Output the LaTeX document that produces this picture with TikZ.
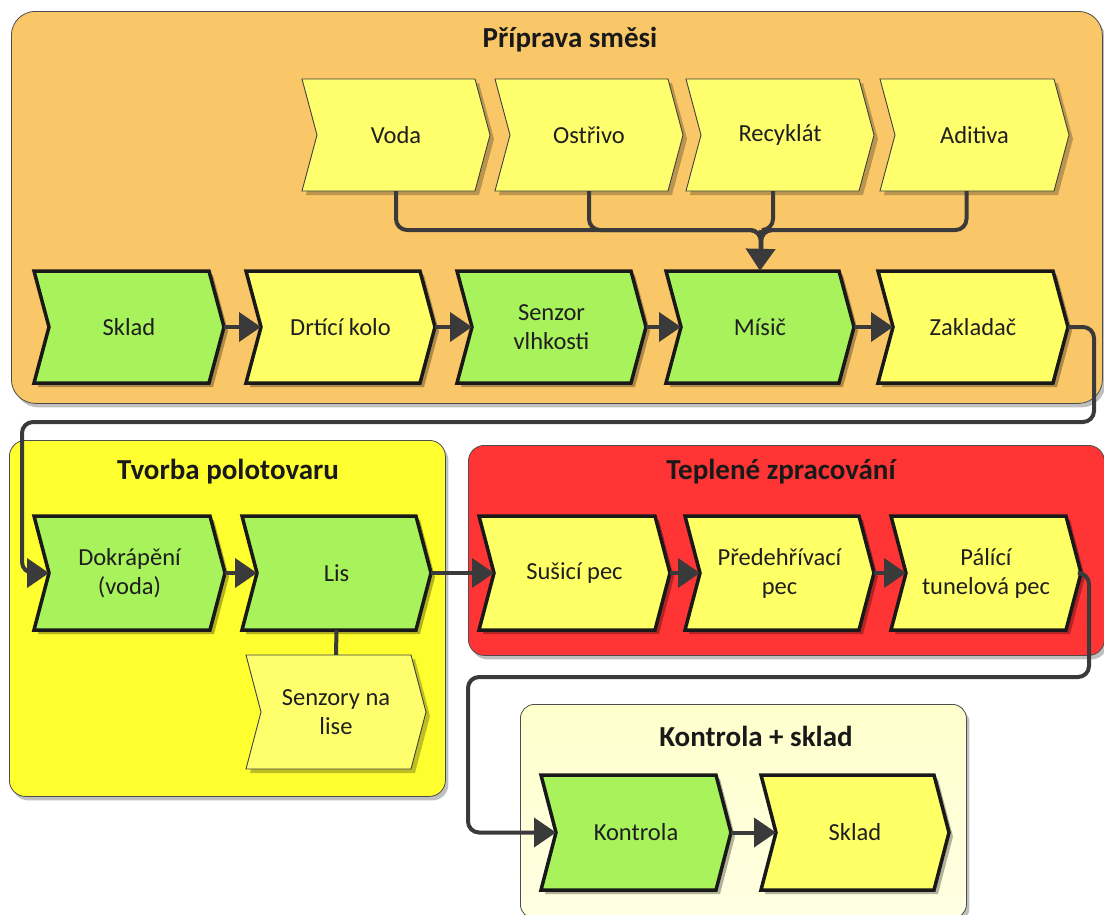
\documentclass[tikz,border=0pt]{standalone}
\usepackage{fontspec}
\setmainfont{Carlito}
\usetikzlibrary{arrows.meta,shadows}

\definecolor{grpOrange}{RGB}{250,199,104}
\definecolor{grpYellow}{RGB}{255,255,48}
\definecolor{grpRed}{RGB}{255,52,52}
\definecolor{grpPale}{RGB}{255,255,204}
\definecolor{stepGreen}{RGB}{168,242,92}
\definecolor{stepYellow}{RGB}{255,255,102}
\definecolor{inputYellow}{RGB}{255,255,110}
\definecolor{connGray}{RGB}{58,58,58}

\tikzset{
  grp/.style={draw=black!70, line width=0.8pt, inner sep=0pt, anchor=north west,
    drop shadow={shadow xshift=3pt, shadow yshift=-4pt, opacity=0.25, fill=black}},
  grptitle/.style={font=\fontsize{29}{33}\selectfont\bfseries, text=black!90},
  mainstep/.style={draw=black!90, line width=3.5pt, line join=miter,
    drop shadow={shadow xshift=4pt, shadow yshift=-4pt, opacity=0.3, fill=black}},
  inputstep/.style={draw=black!75, line width=0.9pt, fill=inputYellow,
    drop shadow={shadow xshift=4pt, shadow yshift=-4pt, opacity=0.25, fill=black}},
  steptext/.style={font=\fontsize{24.5}{29}\selectfont, text=black!88, align=center, inner sep=0pt},
  link/.style={draw=connGray, line width=4pt, rounded corners=11pt},
  flow/.style={link, -{Triangle[length=22pt,width=29pt]}},
}

% \chevstep{name}{style}{left x}{tip x}{top y}{bottom y}{label}
\newcommand{\chevstep}[7]{%
  \pgfmathsetmacro{\chvMid}{(#5+#6)/2}%
  \pgfmathsetmacro{\chvL}{#3+15}%
  \pgfmathsetmacro{\chvR}{#4-15}%
  \pgfmathsetmacro{\chvX}{(#3+#4)/2}%
  \pgfmathsetmacro{\chvH}{#6-#5}%
  \path[#2] (#3,#5) -- (\chvR,#5) -- (#4,\chvMid) -- (\chvR,#6) -- (#3,#6) -- (\chvL,\chvMid) -- cycle;
  \node[steptext, minimum height=\chvH pt] (#1) at (\chvX,\chvMid) {#7};
  \coordinate (#1-in) at (\chvL,\chvMid);
  \coordinate (#1-out) at (#4,\chvMid);
}

\begin{document}
\begin{tikzpicture}[x=1pt,y=-1pt]
\useasboundingbox (0,0) rectangle (1104,914);
\fill[white] (0,0) rectangle (1104,914);

% ---- group boxes ----
\node[grp, fill=grpOrange, rounded corners=24pt, minimum width=1091pt, minimum height=392pt] (gMix) at (11,11) {};
\node[grp, fill=grpYellow, rounded corners=16pt, minimum width=436pt, minimum height=356pt] (gForm) at (9,440) {};
\node[grp, fill=grpRed, rounded corners=16pt, minimum width=636pt, minimum height=210pt] (gHeat) at (468,445) {};
\node[grp, top color=grpPale, bottom color=grpPale!55, rounded corners=14pt, minimum width=446pt, minimum height=214pt] (gStore) at (520,704) {};

\node[grptitle] (tMix) at (570,40) {Příprava směsi};
\node[grptitle] (tForm) at (228,472) {Tvorba polotovaru};
\node[grptitle] (tHeat) at (781,472) {Teplené zpracování};
\node[grptitle] (tStore) at (756,736) {Kontrola + sklad};

% ---- inputs of the mixer ----
\chevstep{voda}{inputstep}{302}{490}{79}{191}{Voda}
\chevstep{ostrivo}{inputstep}{495}{683}{79}{191}{Ostřivo}
\chevstep{recyklat}{inputstep}{686}{874}{79}{191}{Recyklát}
\chevstep{aditiva}{inputstep}{880}{1069}{79}{191}{Aditiva}

% ---- mixture preparation ----
\chevstep{sklad}{mainstep, fill=stepGreen}{34}{224}{271}{383}{Sklad}
\chevstep{drtici}{mainstep, fill=stepYellow}{246}{435}{271}{383}{Drtící kolo}
\chevstep{senzor}{mainstep, fill=stepGreen}{457}{646}{271}{383}{Senzor\\vlhkosti}
\chevstep{misic}{mainstep, fill=stepGreen}{666}{854}{271}{383}{Mísič}
\chevstep{zakladac}{mainstep, fill=stepYellow}{878}{1068}{271}{383}{Zakladač}

% ---- semi-product forming ----
\chevstep{dokrapeni}{mainstep, fill=stepGreen}{34}{225}{516}{630}{Dokrápění\\(voda)}
\chevstep{lis}{mainstep, fill=stepGreen}{242}{431}{516}{630}{Lis}
\chevstep{senzory}{inputstep}{246}{426}{655}{769}{Senzory na\\lise}

% ---- heat treatment ----
\chevstep{susici}{mainstep, fill=stepYellow}{479}{670}{516}{630}{Sušicí pec}
\chevstep{predehr}{mainstep, fill=stepYellow}{685}{874}{516}{630}{Předehřívací\\pec}
\chevstep{palici}{mainstep, fill=stepYellow}{891}{1081}{516}{630}{Pálící\\tunelová pec}

% ---- inspection and storage ----
\chevstep{kontrola}{mainstep, fill=stepGreen}{541}{731}{775}{890}{Kontrola}
\chevstep{sklad2}{mainstep, fill=stepYellow}{761}{949}{775}{890}{Sklad}

% ---- routing points ----
\coordinate (mixJoin) at (761,230);
\coordinate (mixDrop) at (761,252);
\coordinate (loopAr) at (1094,422);
\coordinate (loopAl) at (22,422);
\coordinate (loopBr) at (1089,677);
\coordinate (loopBl) at (468,677);

% ---- connectors ----
\draw[link] (voda.south) |- (mixJoin) -- (mixDrop);
\draw[link] (ostrivo.south) |- (mixJoin) -- (mixDrop);
\draw[link] ([xshift=-7pt]recyklat.south) |- (mixJoin) -- (mixDrop);
\draw[link] ([xshift=-8pt]aditiva.south) |- (mixJoin) -- (mixDrop);
\draw[flow] (mixJoin) -- (misic.north);

\draw[flow] (sklad-out) -- (drtici-in);
\draw[flow] (drtici-out) -- (senzor-in);
\draw[flow] (senzor-out) -- (misic-in);
\draw[flow] (misic-out) -- (zakladac-in);

\draw[flow] (zakladac-out) -| (loopAr) -- (loopAl) |- (dokrapeni-in);
\draw[flow] (dokrapeni-out) -- (lis-in);
\draw[link] (lis.south) -- (senzory.north);
\draw[flow] (lis-out) -- (susici-in);

\draw[flow] (susici-out) -- (predehr-in);
\draw[flow] (predehr-out) -- (palici-in);
\draw[flow] (palici-out) -| (loopBr) -- (loopBl) |- (kontrola-in);
\draw[flow] (kontrola-out) -- (sklad2-in);
\end{tikzpicture}
\end{document}
